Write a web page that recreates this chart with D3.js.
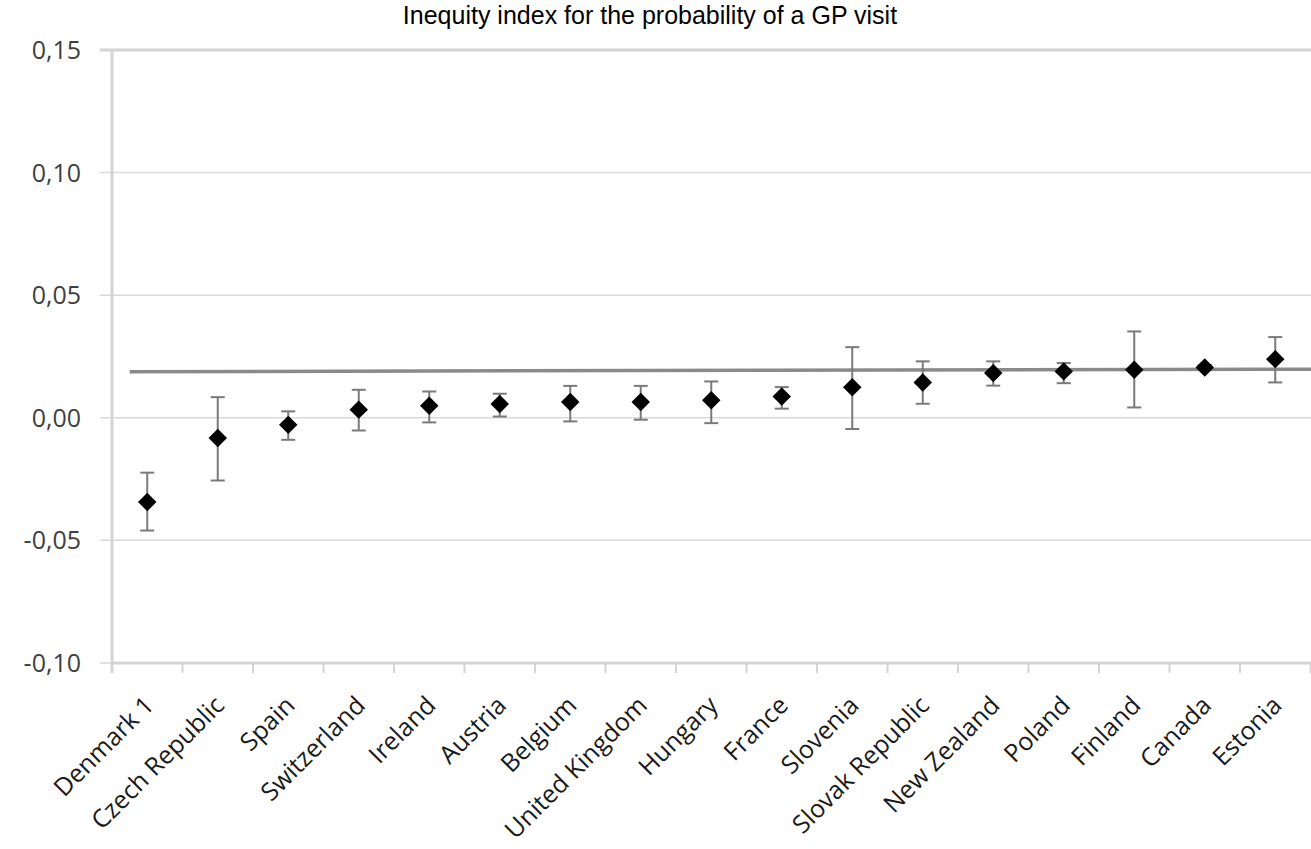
<!DOCTYPE html>
<html><head><meta charset="utf-8">
<script src="https://cdn.jsdelivr.net/npm/d3@7"></script>
<style>
html,body{margin:0;padding:0;background:#fff;overflow:hidden;}
</style></head>
<body>
<svg id="chart" width="1311" height="849"></svg>
<script>
const categories = ["Denmark 1","Czech Republic","Spain","Switzerland","Ireland","Austria","Belgium","United Kingdom","Hungary","France","Slovenia","Slovak Republic","New Zealand","Poland","Finland","Canada","Estonia"];
const values = [-0.0344,-0.0083,-0.0029,0.0033,0.0049,0.0056,0.0064,0.0064,0.0071,0.0087,0.0124,0.0144,0.0182,0.0189,0.0196,0.0205,0.0239];
const upper  = [-0.0224,0.0084,0.0026,0.0114,0.0107,0.0098,0.0130,0.0130,0.0148,0.0125,0.0288,0.0230,0.0230,0.0223,0.0352,0.0215,0.0329];
const lower  = [-0.0460,-0.0256,-0.0090,-0.0052,-0.0019,0.0005,-0.0015,-0.0008,-0.0022,0.0037,-0.0046,0.0057,0.0131,0.0141,0.0042,0.0195,0.0144];
const yTicks = [-0.10,-0.05,0.00,0.05,0.10,0.15];
const yTickLabels = ["-0,10","-0,05","0,00","0,05","0,10","0,15"];
const refLineIdx = [-0.25, 16.7];
const refLineVal = [0.0188, 0.0198];
const title = "Inequity index for the probability of a GP visit";

const svg = d3.select("#chart");
const mLeft = 112, mRight = 1310.5, mTop = 50, mBottom = 662.9;

const x = d3.scaleBand().domain(categories).range([mLeft, mRight]).paddingInner(0).paddingOuter(0);
const xi = d3.scaleLinear().domain([-0.5, categories.length - 0.5]).range([mLeft, mRight]);
const y = d3.scaleLinear().domain([-0.10, 0.15]).range([mBottom, mTop]);

// gridlines
svg.append("g").selectAll("line").data(yTicks).join("line")
  .attr("x1", 100).attr("x2", 1311)
  .attr("y1", d => y(d)).attr("y2", d => y(d))
  .attr("stroke", d => d === 0.15 ? "#d4d4d4" : "#d9d9d9")
  .attr("stroke-width", d => d === 0.15 ? 3 : 1.5);

// y labels
svg.append("g").selectAll("text").data(yTicks).join("text")
  .attr("x", 81).attr("y", d => y(d))
  .attr("dy", "0.36em")
  .attr("text-anchor", "end")
  .attr("font-family", "'Open Sans', sans-serif")
  .attr("font-size", 25)
  .attr("fill", "#404040")
  .text((d, i) => yTickLabels[i]);

// left axis line
svg.append("line").attr("x1", mLeft).attr("x2", mLeft).attr("y1", y(0.15)).attr("y2", mBottom + 10)
  .attr("stroke", "#d4d4d4").attr("stroke-width", 3);
// bottom axis
svg.append("line").attr("x1", mLeft).attr("x2", 1311).attr("y1", mBottom).attr("y2", mBottom)
  .attr("stroke", "#d4d4d4").attr("stroke-width", 3);
// x tick marks
const tickXs = categories.map(c => x(c)).concat([mRight]);
svg.append("g").selectAll("line").data(tickXs.slice(1)).join("line")
  .attr("x1", d => d).attr("x2", d => d).attr("y1", mBottom).attr("y2", mBottom + 10)
  .attr("stroke", "#d4d4d4").attr("stroke-width", 2);

// x labels
svg.append("g").selectAll("text").data(categories).join("text")
  .attr("transform", d => `translate(${x(d) + x.bandwidth()/2 + 8},${mBottom + 44}) rotate(-45)`)
  .attr("text-anchor", "end")
  .attr("font-family", "'Open Sans', sans-serif")
  .attr("font-size", 25)
  .attr("fill", "#1a1a1a")
  .text(d => d);

// reference line
const line = d3.line().x(d => xi(d[0])).y(d => y(d[1]));
svg.append("path").datum(refLineIdx.map((d, i) => [d, refLineVal[i]]))
  .attr("d", line).attr("fill", "none").attr("stroke", "#8a8a8a").attr("stroke-width", 3.5);

// error bars
const cx = c => x(c) + x.bandwidth()/2;
const eb = svg.append("g").attr("stroke", "#7a7a7a").attr("stroke-width", 2);
categories.forEach((c, i) => {
  eb.append("line").attr("x1", cx(c)).attr("x2", cx(c)).attr("y1", y(upper[i])).attr("y2", y(lower[i]));
  eb.append("line").attr("x1", cx(c) - 7).attr("x2", cx(c) + 7).attr("y1", y(upper[i])).attr("y2", y(upper[i]));
  eb.append("line").attr("x1", cx(c) - 7).attr("x2", cx(c) + 7).attr("y1", y(lower[i])).attr("y2", y(lower[i]));
});

// markers
const sym = d3.symbol(d3.symbolSquare, 170);
svg.append("g").selectAll("path").data(categories).join("path")
  .attr("d", sym)
  .attr("transform", (d, i) => `translate(${cx(d)},${y(values[i])}) rotate(45)`)
  .attr("fill", "#000");

// title
svg.append("text").attr("x", 650).attr("y", 24)
  .attr("text-anchor", "middle")
  .attr("font-family", "'Liberation Sans', Arial, sans-serif")
  .attr("font-size", 25)
  .attr("fill", "#000")
  .text(title);
</script>
</body></html>
